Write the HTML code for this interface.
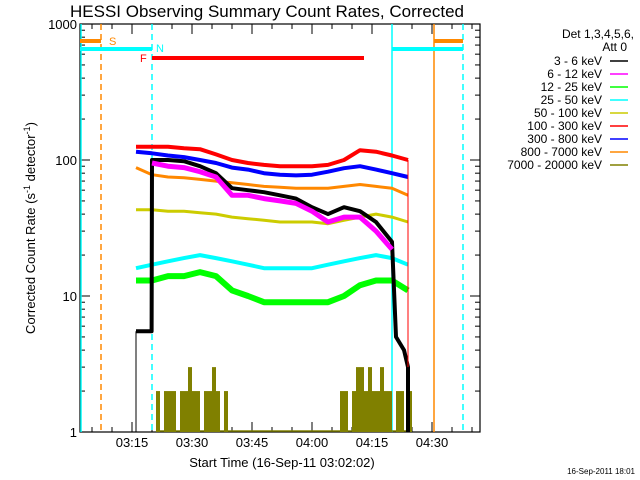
<!DOCTYPE html>
<html><head><meta charset="utf-8"><style>
body{margin:0;background:#fff}
svg{display:block;font-family:"Liberation Sans",sans-serif}
</style></head><body>
<svg id="c" width="640" height="480" xmlns="http://www.w3.org/2000/svg">
<rect width="640" height="480" fill="#fff"/>
<text x="267" y="17" font-size="17" text-anchor="middle">HESSI Observing Summary Count Rates, Corrected</text>
<text transform="translate(35,228) rotate(-90)" font-size="13" text-anchor="middle">Corrected Count Rate (s<tspan font-size="9" dy="-5">-1</tspan><tspan dy="5"> detector</tspan><tspan font-size="9" dy="-5">-1</tspan><tspan dy="5">)</tspan></text>
<text x="282" y="467" font-size="13" text-anchor="middle">Start Time (16-Sep-11 03:02:02)</text>
<text x="635" y="474" font-size="8" text-anchor="end">16-Sep-2011 18:01</text>
<g id="plot"></g>
<g id="legend">
<text x="634" y="38" font-size="12" text-anchor="end">Det 1,3,4,5,6,</text>
<text x="627" y="51" font-size="12" text-anchor="end">Att 0</text>
</g>
</svg>
<script>
const NS="http://www.w3.org/2000/svg";
const times=[14,18,22,26,30,34,38,42,46,50,54,58,62,66,70,74,78,82];
const red=[125,125,125,122,120,110,100,95,92,90,90,90,92,100,118,115,108,100];
const blue=[115,112,108,105,100,95,88,85,80,78,77,78,82,87,90,85,80,75];
const orange=[88,78,75,74,72,70,68,66,64,63,62,62,62,64,66,64,62,55];
const yellow=[43,43,42,42,41,40,38,37,36,35,35,35,34,36,38,40,38,35];
const cyan=[16,17,18,19,20,19,18,17,16,16,16,16,17,18,19,20,19,17];
const green=[13,13,14,14,15,14,11,10,9,9,9,9,9,10,12,13,13,11];
const magTimes=[18,22,26,30,34,38,42,46,50,54,58,62,66,70,74,78];
const magenta=[95,90,88,82,75,55,55,52,50,48,42,35,38,38,30,22];
const blackTimes=[14,17.9,18,22,26,30,34,38,42,46,50,54,58,62,66,70,74,78,79,81,82,82];
const black=[5.5,5.5,100,100,98,90,80,62,60,58,55,52,45,40,45,42,35,25,5,4,3,1];
const oliveStart=19;
const olive=[2,1,2,2,2,1,2,2,3,2,2,1,2,2,3,2,1,2,1,1,1,1,1,1,1,1,1,1,1,1,1,1,1,1,1,1,1,1,1,1,1,1,1,1,1,1,2,2,1,2,3,3,2,3,2,2,3,2,2,1,2,2,1,2];
const legendLabels=["3 - 6 keV","6 - 12 keV","12 - 25 keV","25 - 50 keV","50 - 100 keV","100 - 300 keV","300 - 800 keV","800 - 7000 keV","7000 - 20000 keV"];
const legendColors=["#000","#f0f","#0f0","#0ff","#cc0","#f00","#00f","#f80","#808000"];
const yTicks=[1,10,100,1000];
const xTickLabels=["03:15","03:30","03:45","04:00","04:15","04:30"];
const xTickMins=[13,28,43,58,73,88];

const X0=80,X1=480,Y0=432,Y1=24;
const xs=t=>X0+4*t;
const ys=v=>Y0-136*Math.log10(v);
const plot=document.getElementById('plot');
function el(tag,a,p){const e=document.createElementNS(NS,tag);for(const k in a)e.setAttribute(k,a[k]);(p||plot).appendChild(e);return e;}

const box=el('rect',{x:X0,y:Y1,width:X1-X0,height:Y0-Y1,fill:'none',stroke:'#000','stroke-width':1.2});


for(let d=0;d<3;d++)for(let m=1;m<10;m++){const v=Math.pow(10,d)*m;const y=ys(v);const L=m==1?10:5;
 el('line',{x1:X0,x2:X0+L,y1:y,y2:y,stroke:'#000'});el('line',{x1:X1,x2:X1-L,y1:y,y2:y,stroke:'#000'});}
yTicks.forEach(v=>{const t=el('text',{x:X0-3,y:ys(v)+5,'font-size':13,'text-anchor':'end'});t.textContent=v;
 
 });
for(let m=3;m<=100;m+=5){const x=xs(m);const L=((m-13)%15==0)?10:5;
 el('line',{x1:x,x2:x,y1:Y0,y2:Y0-L,stroke:'#000'});el('line',{x1:x,x2:x,y1:Y1,y2:Y1+L,stroke:'#000'});}
xTickLabels.forEach((s,i)=>{const t=el('text',{x:xs(xTickMins[i]),y:447,'font-size':13,'text-anchor':'middle'});t.textContent=s;
 
 });

function vline(x,c,dash,name){const l=el('line',{x1:x,x2:x,y1:Y1,y2:Y0,stroke:c,'stroke-width':1.5,'stroke-dasharray':dash||'none'});
 
 }
vline(101,'#f80','6,4','saa-start-line');vline(434,'#f80','','saa-end-line');
vline(81,'#0ff','','night-end-line');vline(152,'#0ff','6,4','night-start-line');
vline(392,'#0ff','','night-end-line-2');vline(463,'#0ff','6,4','night-start-line-2');
function hbar(x1,x2,y,c,name){const l=el('rect',{x:x1,y:y-2,width:x2-x1,height:4,fill:c});
 
 }
hbar(80,101,41,'#f80','saa-bar');hbar(434,463,41,'#f80','saa-bar-2');
hbar(80,152,49,'#0ff','night-bar');hbar(392,463,49,'#0ff','night-bar-2');
hbar(152,364,58,'#f00','flare-bar');
[['S',109,45,'#f80'],['N',156,52,'#0ff'],['F',140,62,'#f00']].forEach(a=>{const t=el('text',{x:a[1],y:a[2],'font-size':11,fill:a[3]});t.textContent=a[0];
 
 });

olive.forEach((v,i)=>{if(v>1){const r=el('rect',{x:xs(oliveStart+i),y:ys(v),width:4,height:Y0-ys(v),fill:'#808000'});
 
 }});
el('line',{x1:xs(oliveStart),x2:xs(oliveStart+olive.length),y1:Y0-1,y2:Y0-1,stroke:'#808000','stroke-width':1.5});
function series(tt,vv,c,name,w){const pts=tt.map((t,i)=>xs(t).toFixed(1)+','+ys(vv[i]).toFixed(1)).join(' ');
 const p=el('polyline',{points:pts,fill:'none',stroke:c,'stroke-width':w||4,'stroke-linejoin':'round'});
 
 }
series(times,green,'#0f0','series-12-25kev',6);
series(times,cyan,'#0ff','series-25-50kev',4);
series(times,yellow,'#cc0','series-50-100kev',3);
series(times,orange,'#f80','series-800-7000kev',3);
series(blackTimes,black,'#000','series-3-6kev',4);
series(magTimes,magenta,'#f0f','series-6-12kev',5);
series(times,blue,'#00f','series-300-800kev',4);
series(times,red,'#f00','series-100-300kev',4);
el('line',{x1:xs(14),x2:xs(14),y1:ys(5.5),y2:Y0,stroke:'#000'});
el('line',{x1:xs(82),x2:xs(82),y1:ys(100),y2:ys(3),stroke:'#f00','stroke-width':1});

const lg=document.getElementById('legend');
legendLabels.forEach((s,i)=>{const y=65+13*i;
 const t=el('text',{x:602,y:y,'font-size':12,'text-anchor':'end'},lg);t.textContent=s;
 
 
 const l=el('line',{x1:610,x2:628,y1:y-4,y2:y-4,stroke:legendColors[i],'stroke-width':1.5},lg);
 
 });
</script>
</body></html>
